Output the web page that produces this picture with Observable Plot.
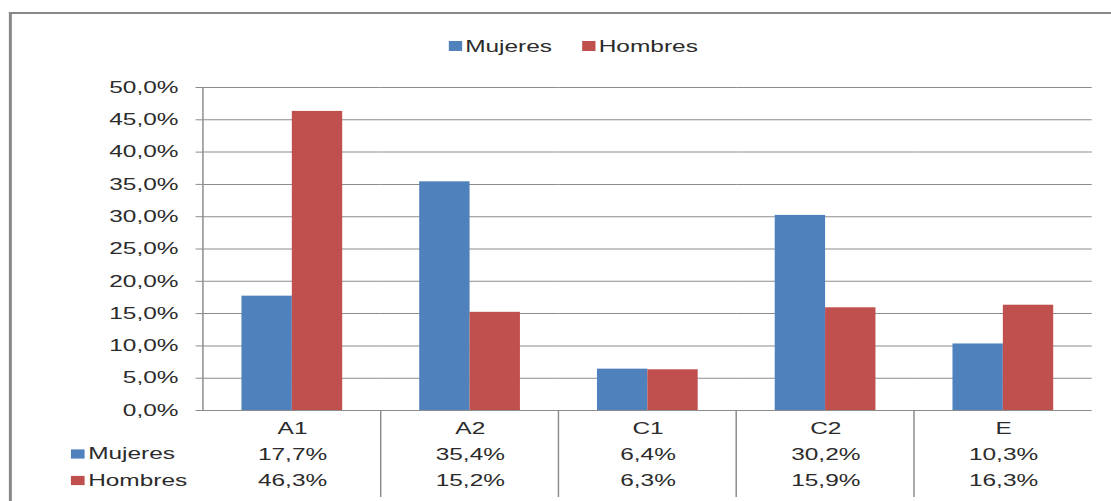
<!DOCTYPE html>
<html><head><meta charset="utf-8">
<script src="https://cdn.jsdelivr.net/npm/d3@7"></script>
<script src="https://cdn.jsdelivr.net/npm/@observablehq/plot@0.6"></script>
<style>
html,body{margin:0;padding:0;background:#fff;overflow:hidden;width:1111px;height:501px;}
#stage{position:absolute;left:0;top:0;width:750px;height:501px;transform-origin:0 0;transform:scaleX(1.4813);font-family:"Liberation Sans",Arial,sans-serif;color:#2b2b2b;}
#frame{position:absolute;left:6px;top:12px;width:800px;height:600px;border-left:2px solid #888;border-top:2.5px solid #888;}
#legend{position:absolute;top:37px;left:302.5px;height:18px;display:flex;align-items:center;font-size:16.5px;white-space:nowrap;}
#legend .item{display:inline-flex;align-items:center;}
#legend .sw{display:inline-block;width:9.5px;height:9.5px;margin-right:2px;}
#chart{position:absolute;left:0;top:60px;}
</style>
</head><body>
<div id="stage">
  <div id="frame"></div>
  <div id="legend"></div>
  <div id="chart"></div>
</div>
<script>
const categories = ["A1", "A2", "C1", "C2", "E"];
const series = ["Mujeres", "Hombres"];
const mujeres = [0.177, 0.354, 0.064, 0.302, 0.103];
const hombres = [0.463, 0.152, 0.063, 0.159, 0.163];
const colors = ["#4F81BD", "#C0504D"];
const yTicks = [0, 0.05, 0.10, 0.15, 0.20, 0.25, 0.30, 0.35, 0.40, 0.45, 0.50];

const values = {Mujeres: mujeres, Hombres: hombres};
const data = categories.flatMap((c, i) => series.map(s => ({cat: c, sex: s, value: values[s][i]})));

const es = d3.formatLocale({decimal: ",", thousands: ".", grouping: [3], currency: ["", "€"]});
const pct = es.format(".1%");

// legend
const legend = d3.select("#legend");
series.forEach((s, i) => {
  const it = legend.append("span").attr("class", "item").style("margin-right", i === 0 ? "20px" : "0");
  it.append("span").attr("class", "sw").style("background", colors[i]);
  it.append("span").text(s);
});

const gray = "#8c8c8c";
const rowMarks = series.flatMap((s, i) => [
  Plot.dot([s], {fx: () => categories[0], frameAnchor: "bottom-left", dx: -85, dy: 43.5 + i * 26.5,
    symbol: "square", r: 5.2, fill: colors[i]}),
  Plot.text([s], {fx: () => categories[0], text: d => d, frameAnchor: "bottom-left", textAnchor: "start",
    lineAnchor: "middle", dx: -78, dy: 43.5 + i * 26.5, fontSize: 16.5})
]);

const chart = Plot.plot({
  width: 750, height: 441,
  marginTop: 27, marginBottom: 91, marginLeft: 135, marginRight: 11.5,
  style: {fontFamily: '"Liberation Sans", Arial, sans-serif', fontSize: "16.5px", color: "#2b2b2b", background: "transparent", overflow: "visible"},
  fx: {domain: categories, padding: 0, label: null},
  x: {domain: series, paddingInner: 0, paddingOuter: 0.755, axis: null},
  y: {domain: [0, 0.5], label: null},
  color: {domain: series, range: colors},
  marks: [
    Plot.gridY(yTicks, {stroke: gray, strokeOpacity: 1}),
    Plot.axisY(yTicks, {tickFormat: pct, tickSize: 5, tickPadding: 12, stroke: gray, label: null, fontSize: 16.5}),
    Plot.barY(data, {fx: "cat", x: "sex", y: "value", fill: "sex"}),
    Plot.axisFx({anchor: "bottom", tickSize: 0, tickPadding: 5, lineHeight: 1.58, label: null, fontSize: 16.5,
      tickFormat: c => { const i = categories.indexOf(c); return [c, pct(mujeres[i]), pct(hombres[i])].join("\n"); }}),
    ...rowMarks
  ]
});
document.getElementById("chart").appendChild(chart);

// axis line and table dividers, placed through the plot's own scales
const fxS = chart.scale("fx"), yS = chart.scale("y");
const svg = d3.select(chart);
const g = svg.append("g").attr("stroke", gray).attr("stroke-width", 1);
const x0 = fxS.apply(categories[0]);
g.append("line").attr("x1", x0).attr("x2", x0).attr("y1", yS.apply(0.5)).attr("y2", yS.apply(0));
categories.slice(1).forEach(c => {
  const x = fxS.apply(c);
  g.append("line").attr("x1", x).attr("x2", x).attr("y1", yS.apply(0)).attr("y2", yS.apply(0) + 87);
});
</script>
</body></html>
